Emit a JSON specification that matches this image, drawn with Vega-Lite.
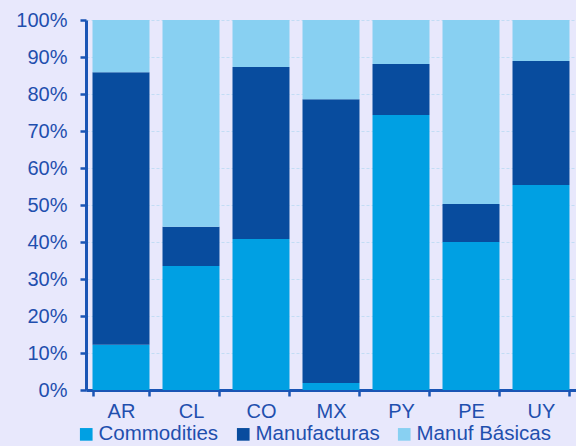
{
  "$schema": "https://vega.github.io/schema/vega-lite/v6.json",
  "width": 490,
  "height": 370,
  "autosize": {"type": "none"},
  "padding": {"left": 86, "top": 20, "right": 0, "bottom": 56},
  "background": "#E8E8FC",
  "config": {
    "view": {"stroke": null},
    "font": "Liberation Sans",
    "axis": {"labelFont": "Liberation Sans"},
    "legend": {"labelFont": "Liberation Sans"}
  },
  "data": {
    "values": [
      {"pais": "AR", "tipo": "Commodities", "ord": 1, "v": 12.2},
      {"pais": "AR", "tipo": "Manufacturas", "ord": 2, "v": 73.7},
      {"pais": "AR", "tipo": "Manuf Básicas", "ord": 3, "v": 14.1},
      {"pais": "CL", "tipo": "Commodities", "ord": 1, "v": 33.5},
      {"pais": "CL", "tipo": "Manufacturas", "ord": 2, "v": 10.6},
      {"pais": "CL", "tipo": "Manuf Básicas", "ord": 3, "v": 55.9},
      {"pais": "CO", "tipo": "Commodities", "ord": 1, "v": 40.8},
      {"pais": "CO", "tipo": "Manufacturas", "ord": 2, "v": 46.5},
      {"pais": "CO", "tipo": "Manuf Básicas", "ord": 3, "v": 12.7},
      {"pais": "MX", "tipo": "Commodities", "ord": 1, "v": 1.9},
      {"pais": "MX", "tipo": "Manufacturas", "ord": 2, "v": 76.7},
      {"pais": "MX", "tipo": "Manuf Básicas", "ord": 3, "v": 21.4},
      {"pais": "PY", "tipo": "Commodities", "ord": 1, "v": 74.3},
      {"pais": "PY", "tipo": "Manufacturas", "ord": 2, "v": 13.8},
      {"pais": "PY", "tipo": "Manuf Básicas", "ord": 3, "v": 11.9},
      {"pais": "PE", "tipo": "Commodities", "ord": 1, "v": 40.0},
      {"pais": "PE", "tipo": "Manufacturas", "ord": 2, "v": 10.3},
      {"pais": "PE", "tipo": "Manuf Básicas", "ord": 3, "v": 49.7},
      {"pais": "UY", "tipo": "Commodities", "ord": 1, "v": 55.4},
      {"pais": "UY", "tipo": "Manufacturas", "ord": 2, "v": 33.5},
      {"pais": "UY", "tipo": "Manuf Básicas", "ord": 3, "v": 11.1}
    ]
  },
  "mark": {"type": "bar"},
  "encoding": {
    "x": {
      "field": "pais",
      "type": "nominal",
      "sort": ["AR", "CL", "CO", "MX", "PY", "PE", "UY"],
      "title": null,
      "scale": {"paddingInner": 0.186, "paddingOuter": 0.093},
      "axis": {
        "labelAngle": 0,
        "labelFontSize": 20,
        "labelColor": "#1F4FAE",
        "domainColor": "#1A55B5",
        "domainWidth": 3,
        "tickColor": "#1A55B5",
        "tickWidth": 2.5,
        "tickSize": 6,
        "tickBand": "extent",
        "labelPadding": 5,
        "grid": false
      }
    },
    "y": {
      "field": "v",
      "type": "quantitative",
      "stack": "normalize",
      "title": null,
      "scale": {"domain": [0, 1], "nice": false},
      "axis": {
        "values": [0, 0.1, 0.2, 0.3, 0.4, 0.5, 0.6, 0.7, 0.8, 0.9, 1],
        "format": ".0%",
        "labelFontSize": 20,
        "labelColor": "#1F4FAE",
        "domainColor": "#1A55B5",
        "domainWidth": 3,
        "tickColor": "#1A55B5",
        "tickWidth": 2.5,
        "tickSize": 6,
        "labelPadding": 13,
        "grid": true,
        "gridColor": "#C2DDF5",
        "gridDash": [3, 2],
        "gridWidth": 1
      }
    },
    "color": {
      "field": "tipo",
      "type": "nominal",
      "sort": ["Commodities", "Manufacturas", "Manuf Básicas"],
      "scale": {
        "domain": ["Commodities", "Manufacturas", "Manuf Básicas"],
        "range": ["#00A0E3", "#084C9E", "#88D0F2"]
      },
      "legend": {
        "title": null,
        "orient": "none",
        "direction": "horizontal",
        "legendX": -10,
        "legendY": 404,
        "symbolType": "square",
        "symbolSize": 160,
        "symbolStrokeWidth": 0,
        "labelFontSize": 20.5,
        "labelColor": "#1F4FAE",
        "labelOffset": 2,
        "columnPadding": 14,
        "padding": 0
      }
    },
    "order": {"field": "ord", "type": "quantitative"}
  }
}
